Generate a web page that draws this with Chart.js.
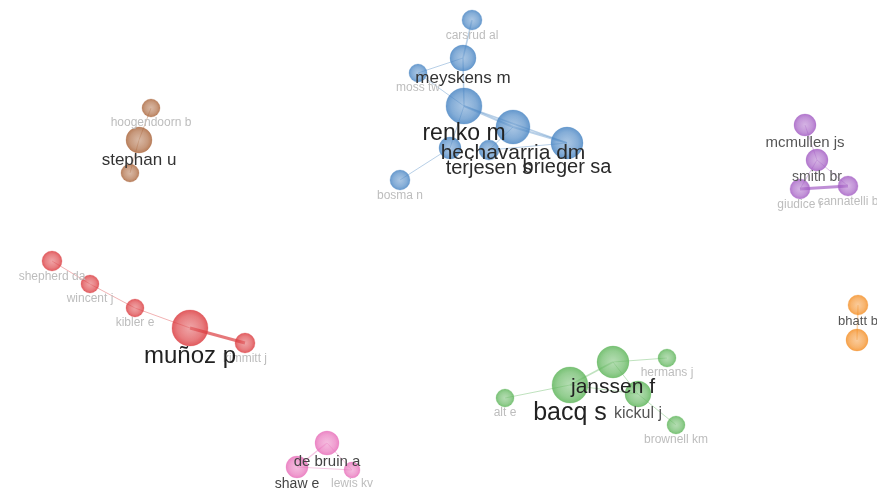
<!DOCTYPE html>
<html>
<head>
<meta charset="utf-8">
<script src="https://cdn.jsdelivr.net/npm/chart.js@4"></script>
<style>
  html, body { margin: 0; padding: 0; background: #fff; }
  #wrap { width: 877px; height: 492px; position: relative; }
</style>
</head>
<body>
<div id="wrap"><canvas id="network-map"></canvas></div>
<script>
// author nodes (map coordinates, node weight, cluster)
const nodeNames = ['carsrud al', 'meyskens m', 'moss tw', 'renko m', 'hechavarria dm', 'brieger sa', 'terjesen s', '', 'bosma n',
    'hoogendoorn b', 'stephan u', '',
    'mcmullen js', 'smith br', 'giudice r', 'cannatelli b',
    'shepherd da', 'wincent j', 'kibler e', 'muñoz p', 'kimmitt j',
    'alt e', 'bacq s', 'janssen f', 'hermans j', 'kickul j', 'brownell km',
    'de bruin a', 'shaw e', 'lewis kv',
    'bhatt b', ''];
const nodeX = [472, 463, 418, 464, 513, 567, 489, 450, 400,
    151, 139, 130,
    805, 817, 800, 848,
    52, 90, 135, 190, 245,
    505, 570, 613, 667, 638, 676,
    327, 297, 352,
    858, 857];
const nodeY = [20, 58, 73, 106, 127, 143, 150, 148, 180,
    108, 140, 173,
    125, 160, 189, 186,
    261, 284, 308, 328, 343,
    398, 385, 362, 358, 394, 425,
    443, 467, 470,
    305, 340];
const nodeWeight = [10, 13, 9, 18, 17, 16, 10, 11, 10,
    9, 13, 9,
    11, 11, 10, 10,
    10, 9, 9, 18, 10,
    9, 18, 16, 9, 13, 9,
    12, 11, 8,
    10, 11];
const nodeCluster = [0, 0, 0, 0, 0, 0, 0, 0, 0,
    1, 1, 1,
    2, 2, 2, 2,
    3, 3, 3, 3, 3,
    4, 4, 4, 4, 4, 4,
    5, 5, 5,
    6, 6];

// co-authorship links
const edgeFrom = [0, 1, 1, 2, 3, 3, 4, 3, 7, 4, 6, 9, 10, 12, 13, 13, 14, 16, 17, 18, 19, 21, 22, 23, 23, 22, 25, 27, 27, 28, 30];
const edgeTo = [1, 2, 3, 3, 4, 5, 5, 7, 8, 6, 5, 10, 11, 13, 14, 15, 15, 17, 18, 19, 20, 22, 23, 24, 25, 25, 26, 28, 29, 29, 31];
const edgeWeight = [1.5, 1, 1.5, 1, 2, 1.5, 2, 1, 1, 1, 1, 1, 1, 1, 1, 1, 3, 1, 1, 1, 3, 1, 1.5, 1, 1, 1, 1, 1.5, 1, 1, 1.5];

const clusterColors = [
    [74, 134, 196],   // blue
    [172, 104, 62],   // brown
    [164, 94, 196],   // purple
    [220, 62, 66],    // red
    [96, 182, 92],    // green
    [232, 112, 186],  // pink
    [244, 144, 40]    // orange
];

// font size and colour of the visible labels, the rest are small grey ones
const labelStyle = {
    'renko m': [23, '#222'],
    'hechavarria dm': [21, '#2a2a2a'],
    'brieger sa': [20, '#2a2a2a'],
    'terjesen s': [20, '#2a2a2a'],
    'meyskens m': [17, '#333'],
    'stephan u': [17, '#333'],
    'mcmullen js': [15, '#555'],
    'smith br': [14, '#5a5a5a'],
    'muñoz p': [24, '#222'],
    'bacq s': [25, '#222'],
    'janssen f': [21, '#222'],
    'kickul j': [16, '#555'],
    'de bruin a': [15, '#444'],
    'shaw e': [14, '#444'],
    'bhatt b': [13, '#555']
};

function rgba(c, a) {
    return `rgba(${c[0]}, ${c[1]}, ${c[2]}, ${a})`;
}

function tint(c, f) {
    return c.map(v => Math.round(v + (255 - v) * f));
}

// soft VOSviewer-like disc: lighter middle, darker rim
function nodeFill(col) {
    return function (context) {
        const raw = context.raw;
        const chart = context.chart;
        const fallback = rgba(col, 0.7);
        if (!raw || !chart.scales || !chart.scales.x || !chart.scales.y) return fallback;
        const px = chart.scales.x.getPixelForValue(raw.x);
        const py = chart.scales.y.getPixelForValue(raw.y);
        if (!isFinite(px) || !isFinite(py) || !isFinite(raw.r)) return fallback;
        const g = chart.ctx.createRadialGradient(px, py, 0, px, py, raw.r);
        g.addColorStop(0, rgba(tint(col, 0.25), 0.62));
        g.addColorStop(0.7, rgba(col, 0.68));
        g.addColorStop(1, rgba(col, 0.85));
        return g;
    };
}

const datasets = [];

// one bubble dataset per cluster
clusterColors.forEach((col, ci) => {
    const pts = [];
    nodeNames.forEach((name, i) => {
        if (nodeCluster[i] === ci) pts.push({ x: nodeX[i], y: nodeY[i], r: nodeWeight[i] });
    });
    datasets.push({
        type: 'bubble',
        data: pts,
        backgroundColor: nodeFill(col),
        borderColor: rgba(col, 0.25),
        borderWidth: 1,
        hoverRadius: 0,
        order: 1,
        clip: false
    });
});

// one line dataset per link
edgeFrom.forEach((a, k) => {
    const b = edgeTo[k];
    const col = clusterColors[nodeCluster[a]];
    datasets.push({
        type: 'line',
        data: [{ x: nodeX[a], y: nodeY[a] }, { x: nodeX[b], y: nodeY[b] }],
        borderColor: rgba(col, edgeWeight[k] > 2 ? 0.7 : 0.4),
        borderWidth: edgeWeight[k],
        pointRadius: 0,
        pointHoverRadius: 0,
        fill: false,
        order: 2,
        clip: false
    });
});

const labelPlugin = {
    id: 'nodeLabels',
    afterDatasetsDraw(chart) {
        const ctx = chart.ctx;
        const xs = chart.scales.x;
        const ys = chart.scales.y;
        const items = nodeNames.map((name, i) => {
            const st = labelStyle[name] || [12, '#bdbdbd'];
            return { name, i, size: st[0], color: st[1] };
        }).filter(d => d.name !== '');
        items.sort((a, b) => a.size - b.size);

        ctx.save();
        ctx.textAlign = 'center';
        ctx.textBaseline = 'middle';
        items.forEach(d => {
            const px = xs.getPixelForValue(nodeX[d.i]);
            const py = ys.getPixelForValue(nodeY[d.i]) + nodeWeight[d.i] + d.size * 0.38 + 1;
            ctx.font = `${d.size}px "Liberation Sans", Arial, sans-serif`;
            ctx.fillStyle = d.color;
            ctx.fillText(d.name, px, py);
        });
        ctx.restore();
    }
};

const networkChart = new Chart(document.getElementById('network-map').getContext('2d'), {
    data: { datasets: datasets },
    options: {
        responsive: true,
        maintainAspectRatio: false,
        animation: false,
        layout: { padding: 0 },
        scales: {
            x: { type: 'linear', min: 0, max: 877, display: false },
            y: { type: 'linear', min: 0, max: 492, reverse: true, display: false }
        },
        plugins: {
            legend: { display: false },
            tooltip: { enabled: false }
        }
    },
    plugins: [labelPlugin]
});

// bubbles reserve room for their radius, so match the scale range to the chart area
const area = networkChart.chartArea;
networkChart.options.scales.x.min = area.left;
networkChart.options.scales.x.max = area.right;
networkChart.options.scales.y.min = area.top;
networkChart.options.scales.y.max = area.bottom;
networkChart.update();
</script>
</body>
</html>
